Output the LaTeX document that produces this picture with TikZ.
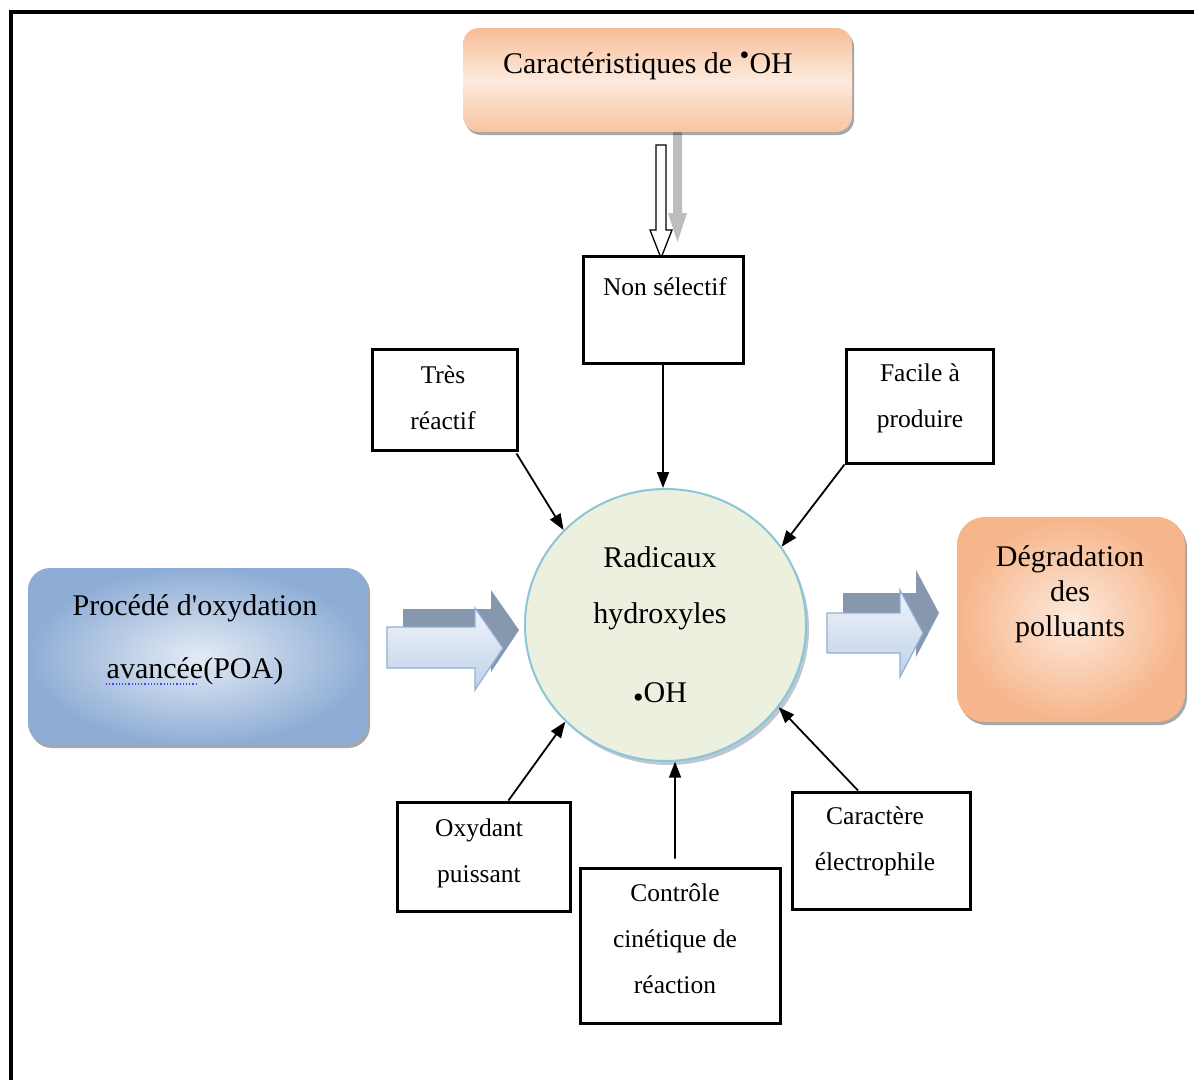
\documentclass[tikz,border=0pt]{standalone}
\usepackage{fontspec}
\setmainfont{Liberation Serif}[Ligatures=TeXOff]
\usetikzlibrary{arrows.meta,shadows,shapes.geometric}

\definecolor{orgEdge}{HTML}{F6B58A}
\definecolor{orgLight}{HTML}{FDEADD}
\definecolor{bluEdge}{HTML}{8EADD5}
\definecolor{bluLight}{HTML}{E4EBF5}
\definecolor{ballFill}{HTML}{ECF0DF}
\definecolor{ballRim}{HTML}{8CC5D5}
\definecolor{arrFront}{HTML}{BFD1E8}
\definecolor{arrFrontTop}{HTML}{F0F4FA}
\definecolor{arrEdge}{HTML}{8FB0D8}
\definecolor{arrBack}{HTML}{8797AE}
\definecolor{greyArrow}{HTML}{BDBDBD}

\begin{document}
\begin{tikzpicture}[x=1pt,y=-1pt,
  softshadow/.style={drop shadow={shadow xshift=2pt,shadow yshift=-3pt,opacity=0.35,fill=black}},
  factbox/.style={draw=black,line width=3pt,fill=white,inner sep=0pt},
  facttext/.style={align=center,inner sep=0pt,font=\fontsize{25.5}{46}\selectfont},
  bigtext/.style={align=center,inner sep=0pt,font=\fontsize{30}{36}\selectfont},
  conn/.style={line width=1.8pt,-{Triangle[length=16pt,width=12pt]}},
  blockfront/.style={draw=arrEdge,line width=1.2pt,top color=arrFrontTop,bottom color=arrFront},
  blockback/.style={fill=arrBack},
]
\useasboundingbox (0,0) rectangle (1194,1080);

% page frame
\draw[line width=3.5pt] (11,1080) -- (11,12) -- (1194,12);

% header box and its two descending arrows
\fill[greyArrow] (673,128) -- (682,128) -- (682,213) -- (687,213) -- (677.5,242)
  -- (668,213) -- (673,213) -- cycle;
\node[softshadow,rounded corners=16pt,minimum width=389pt,minimum height=104pt,
  top color=orgEdge!90,bottom color=orgEdge!80,middle color=orgLight] (head) at (657.5,80) {};
\node[bigtext] (headtxt) at (648,66)
  {Caractéristiques de {\raisebox{9pt}{\fontsize{28}{28}\selectfont•}}OH};
\draw[line width=1.3pt,fill=white] (656,145) -- (666,145) -- (666,230) -- (672,230)
  -- (661,258) -- (650,230) -- (656,230) -- cycle;

% property boxes
\node[factbox,minimum width=160pt,minimum height=107pt] (ns) at (663,309.5) {};
\node[facttext] (nstxt) at (665,287) {Non sélectif};

\node[factbox,minimum width=145pt,minimum height=101pt] (tr) at (444.5,399.5) {};
\node[facttext] (trtxt) at (443,398) {Très\\réactif};

\node[factbox,minimum width=147pt,minimum height=114pt] (fa) at (919.5,406) {};
\node[facttext] (fatxt) at (920,398) {Facile à\\produire};

\node[factbox,minimum width=173pt,minimum height=109pt] (ox) at (483.5,856.5) {};
\node[facttext] (oxtxt) at (479,853) {Oxydant\\puissant};

\node[factbox,minimum width=200pt,minimum height=155pt] (ct) at (680,945.5) {};
\node[facttext] (cttxt) at (675,939) {Contrôle\\cinétique de\\réaction};

\node[factbox,minimum width=178pt,minimum height=117pt] (ce) at (881,850.5) {};
\node[facttext] (cetxt) at (875,841) {Caractère\\électrophile};

% process box on the left
\node[softshadow,rounded corners=22pt,minimum width=340pt,minimum height=177pt,
  inner color=bluLight,outer color=bluEdge] (poa) at (198,656.5) {};
\node[bigtext,font=\fontsize{30}{63}\selectfont] (poatxt) at (195,640)
  {Procédé d'oxydation\\avancée(POA)};
\draw[blue!75,dotted,line width=1.2pt] (106,684) -- (196,684);

% result box on the right
\node[softshadow,rounded corners=28pt,minimum width=228pt,minimum height=205pt,
  inner color=orgLight,outer color=orgEdge] (deg) at (1071,619.5) {};
\node[bigtext,font=\fontsize{30}{35}\selectfont] (degtxt) at (1070,594)
  {Dégradation\\des\\polluants};

% block arrows
\fill[blockback] (403,609) -- (491,609) -- (491,590) -- (519,630) -- (491,672)
  -- (491,650) -- (403,650) -- cycle;
\path[blockfront] (387,627) -- (475,627) -- (475,608) -- (503,648) -- (475,690)
  -- (475,668) -- (387,668) -- cycle;
\fill[blockback] (843,593) -- (916,593) -- (916,570) -- (939,613) -- (916,657)
  -- (916,633) -- (843,633) -- cycle;
\path[blockfront] (827,613) -- (900,613) -- (900,590) -- (923,633) -- (900,677)
  -- (900,653) -- (827,653) -- cycle;

% central radical
\node[ellipse,minimum width=281pt,minimum height=272pt,fill=ballFill,draw=ballRim,line width=2pt,
  drop shadow={shadow xshift=3pt,shadow yshift=-4pt,opacity=0.55,fill=arrBack}] (rad) at (665.5,625) {};
\node[bigtext,font=\fontsize{30}{56}\selectfont] (radtxt) at (660,627)
  {Radicaux\\hydroxyles\\[23pt]{\raisebox{-5pt}{•}}OH};

% connectors into the radical
\draw[conn] (ns.south) -- (ns.south |- rad.north);
\draw[conn] ([xshift=-2pt,yshift=-2pt]tr.south east) -- (rad.137);
\draw[conn] (fa.south west) -- (rad.34);
\draw[conn] (ox.66) -- (rad.224);
\draw[conn] ([xshift=-5pt,yshift=8pt]ct.north) -- (rad.274);
\draw[conn] ([xshift=-23pt]ce.north) -- (rad.324);
\end{tikzpicture}
\end{document}
